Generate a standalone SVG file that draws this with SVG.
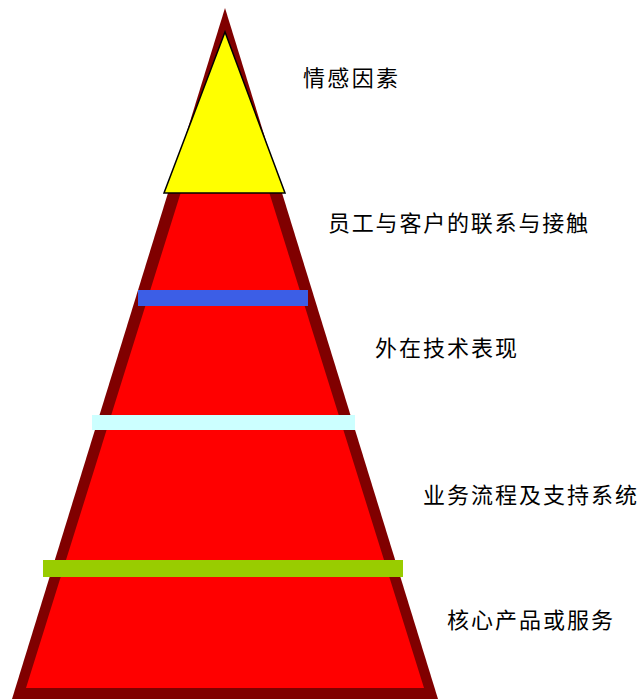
<svg xmlns="http://www.w3.org/2000/svg" width="640" height="699" viewBox="0 0 640 699">
<style>
.t{font-family:"Noto Sans CJK SC","Noto Sans",sans-serif;font-size:22px;fill:#000}
</style>
<rect width="640" height="699" fill="#fff"/>
<g id="pyramid">
<polygon points="225,8 12,699 438,699" fill="#800000"/>
<polygon points="225,51 26,688 424,688" fill="#ff0000"/>
</g>
<g id="top">
<polygon points="225,32 164,193 285,193" fill="#ffff00" stroke="#000" stroke-width="1.5"/>
</g>
<g id="bands">
<rect x="138" y="290" width="170" height="16" fill="#3c5ee6"/>
<rect x="92" y="415" width="263" height="15" fill="#ccffff"/>
<rect x="43" y="560" width="360" height="17" fill="#99cc00"/>
</g>
<g id="labels">
<text class="t" x="303" y="86" textLength="95" lengthAdjust="spacing">情感因素</text>
<text class="t" x="328" y="231" textLength="260" lengthAdjust="spacing">员工与客户的联系与接触</text>
<text class="t" x="375" y="356" textLength="142" lengthAdjust="spacing">外在技术表现</text>
<text class="t" x="423" y="503" textLength="214" lengthAdjust="spacing">业务流程及支持系统</text>
<text class="t" x="447" y="628" textLength="166" lengthAdjust="spacing">核心产品或服务</text>
</g>
</svg>
